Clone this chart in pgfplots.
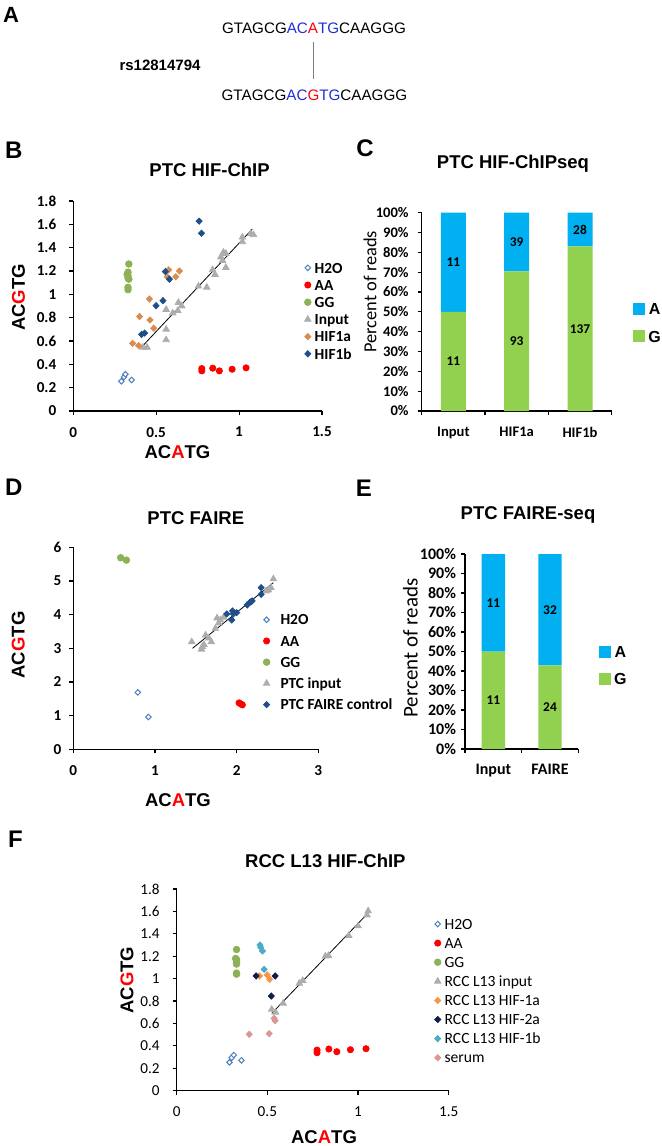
\documentclass[border=0pt]{standalone}
\usepackage{pgfplots}
\pgfplotsset{compat=1.18}
\usepackage{pgfplotstable}
\usepackage{fontspec}
\setmainfont{Liberation Sans}
\newfontfamily\calib{Carlito}

\definecolor{cA}{HTML}{00B0F0}
\definecolor{cG}{HTML}{92D050}
\definecolor{h2o}{HTML}{4F81BD}
\definecolor{aa}{HTML}{FF0000}
\definecolor{gg}{HTML}{8DB255}
\definecolor{inp}{HTML}{ADADAD}
\definecolor{hifa}{HTML}{DB8B4C}
\definecolor{hifb}{HTML}{1F4E8A}
\definecolor{rcca}{HTML}{F79646}
\definecolor{rcctwo}{HTML}{0F1E4A}
\definecolor{rccb}{HTML}{4BACC6}
\definecolor{serum}{HTML}{D99694}
\definecolor{seqblue}{HTML}{1F2FD8}

% read counts, percent of reads
\pgfplotstableread{
x G A Gn An
0 50 50 11 11
1 70.45 29.55 93 39
2 83.03 16.97 137 28
}\chipseq
\pgfplotstableread{
x G A Gn An
0 50 50 11 11
1 42.86 57.14 24 32
}\faireseq

\pgfplotsset{
  base/.style={scale only axis, anchor=south west,
    axis x line*=bottom, axis y line*=left,
    axis line style={-, line width=0.75pt},
    tick align=outside, major tick length=2pt,
    tick style={black, line width=0.6pt},
    /pgf/number format/assume math mode=true, clip=false},
  scat/.style={base,
    ticklabel style={font=\calib\bfseries\fontsize{7.6}{9}\selectfont},
    legend style={draw=none, fill=none, inner sep=0pt, anchor=north west,
      font=\calib\bfseries\fontsize{7.7}{9}\selectfont,
      nodes={inner sep=0.8pt, text height=5.5pt, text depth=1.5pt}},
    legend cell align=left,
    legend image code/.code={\draw[##1] plot coordinates {(0pt,0.6pt)};}},
  sqleg/.style={legend image code/.code={\fill[##1] (0pt,-3pt) rectangle (6pt,3pt);}},
  mH/.style={only marks, mark=diamond*, mark size=1.4pt, mark options={draw=h2o, fill=white, line width=0.5pt, xscale=1.3}},
  mAA/.style={only marks, mark=*, mark size=1.55pt, color=aa},
  mGG/.style={only marks, mark=*, mark size=1.65pt, color=gg},
  mIn/.style={only marks, mark=triangle*, mark size=1.85pt, color=inp},
  mD/.style={only marks, mark=diamond*, mark size=1.55pt, color=#1, mark options={xscale=1.3}},
  fit/.style={black, line width=0.4pt, forget plot},
  lbl/.style={draw=none, forget plot, nodes near coords, point meta=explicit symbolic,
    nodes near coords align={anchor=center},
    every node near coord/.append style={font=\calib\bfseries\fontsize{6.7}{8}\selectfont, inner sep=0pt}},
  barleg/.style={legend style={draw=none, fill=none, inner sep=0pt, anchor=north west,
    font=\bfseries\fontsize{8}{10}\selectfont, row sep=7pt, column sep=1pt,
    nodes={inner sep=0.5pt, text height=5.7pt, text depth=0pt}}},
}

\begin{document}
\begin{tikzpicture}
\useasboundingbox (0,0) rectangle (331pt,-573pt);

% ---------- A ----------
\node[font=\bfseries\fontsize{11}{13}\selectfont] at (5.5pt,-7.25pt) {A};
\node[font=\fontsize{7.6}{9}\selectfont] at (157pt,-14.15pt)
  {GTAGCG\textcolor{seqblue}{AC}\textcolor{red}{A}\textcolor{seqblue}{TG}CAAGGG};
\node[font=\fontsize{7.6}{9}\selectfont] at (157.2pt,-47.5pt)
  {GTAGCG\textcolor{seqblue}{AC}\textcolor{red}{G}\textcolor{seqblue}{TG}CAAGGG};
\draw[gray, line width=0.5pt] (156.5pt,-20.8pt) -- (156.5pt,-39.5pt);
\node[font=\bfseries\fontsize{7.5}{9}\selectfont] at (80pt,-32.5pt) {rs12814794};

% ---------- panel letters, titles, axis labels ----------
\begin{scope}[every node/.style={font=\bfseries\fontsize{12}{14}\selectfont}]
\node at (6.9pt,-75pt) {B};
\node at (182.5pt,-74pt) {C};
\node at (6.9pt,-243.75pt) {D};
\node at (182pt,-244pt) {E};
\node at (7.75pt,-419.5pt) {F};
\end{scope}
\begin{scope}[every node/.style={font=\bfseries\fontsize{9.25}{11}\selectfont}]
\node at (104.8pt,-84.7pt) {PTC HIF-ChIP};
\node at (256.5pt,-81.7pt) {PTC HIF-ChIPseq};
\node at (97.9pt,-259pt) {PTC FAIRE};
\node at (264pt,-257.5pt) {PTC FAIRE-seq};
\node at (162.7pt,-430.4pt) {RCC L13 HIF-ChIP};
\node[rotate=90] at (9.25pt,-148.75pt) {AC\textcolor{red}{G}TG};
\node at (88.75pt,-225.85pt) {AC\textcolor{red}{A}TG};
\node[rotate=90] at (9.15pt,-322.5pt) {AC\textcolor{red}{G}TG};
\node at (89pt,-400pt) {AC\textcolor{red}{A}TG};
\node[rotate=90] at (63.5pt,-490pt) {AC\textcolor{red}{G}TG};
\node at (162pt,-568.35pt) {AC\textcolor{red}{A}TG};
\end{scope}
\node[rotate=90, font=\calib\fontsize{9.2}{11}\selectfont] at (185pt,-145.85pt) {Percent of reads};
\node[rotate=90, font=\calib\fontsize{10.5}{12}\selectfont] at (205.25pt,-324pt) {Percent of reads};

% ---------- B ----------
\begin{axis}[scat, at={(36.65pt,-205.5pt)}, width=124.35pt, height=105pt,
  xmin=0, xmax=1.5, ymin=0, ymax=1.8,
  xtick={0,0.5,1,1.5}, ytick={0,0.2,0.4,0.6,0.8,1,1.2,1.4,1.6,1.8},
  xticklabel shift=2.5pt, yticklabel shift=3pt,
  legend style={at={(0.928,0.719)}, column sep=1pt}]
\addplot[mH] coordinates {(0.29,0.255) (0.306,0.292) (0.314,0.315) (0.352,0.266)};
\addplot[mAA] coordinates {(0.775,0.344) (0.775,0.364) (0.841,0.367) (0.881,0.344) (0.958,0.358) (1.042,0.370)};
\addplot[mGG] coordinates {(0.335,1.26) (0.33,1.19) (0.325,1.17) (0.33,1.16) (0.33,1.14) (0.335,1.13) (0.33,1.06) (0.33,1.04)};
\addplot[mIn] coordinates {(0.42,0.545) (0.445,0.545) (0.56,0.70) (0.56,0.61) (0.56,0.87) (0.60,0.84) (0.63,0.86) (0.634,0.93) (0.654,0.90) (0.755,1.07) (0.805,1.06) (0.84,1.21) (0.855,1.17) (0.89,1.32) (0.905,1.36) (0.92,1.35) (0.90,1.29) (0.92,1.23) (1.02,1.49) (1.02,1.45) (1.07,1.52) (1.087,1.51)};
\addplot[mD=hifa] coordinates {(0.358,0.58) (0.394,0.56) (0.40,0.81) (0.459,0.96) (0.463,0.78) (0.485,0.71) (0.567,1.15) (0.575,1.21) (0.618,1.15) (0.64,1.20)};
\addplot[mD=hifb] coordinates {(0.759,1.627) (0.773,1.524) (0.555,1.195) (0.58,1.13) (0.499,0.903) (0.541,0.946) (0.412,0.656) (0.43,0.668)};
\addplot[fit] coordinates {(0.41,0.545) (1.08,1.56)};
\legend{H2O,AA,GG,Input,HIF1a,HIF1b}
\end{axis}

% ---------- C ----------
\begin{axis}[base, barleg, at={(210.85pt,-205.5pt)}, width=95pt, height=99.15pt,
  ybar stacked, bar width=12.5pt, enlargelimits=false,
  xmin=-0.5, xmax=2.5, ymin=0, ymax=100,
  xtick={-0.5,0.5,1.5,2.5}, xticklabels={},
  extra x ticks={0,1,2}, extra x tick labels={Input,HIF1a,HIF1b},
  extra x tick style={major tick length=0pt, xticklabel style={yshift=-4.5pt}},
  ytick={0,10,...,100}, yticklabel={\pgfmathprintnumber{\tick}\%}, yticklabel shift=1pt,
  ticklabel style={font=\calib\bfseries\fontsize{7.3}{9}\selectfont},
  reverse legend,
  legend style={at={(1.112,0.55)}}]
\addplot[fill=cG, draw=none, sqleg] table[x=x, y=G] {\chipseq};
\addplot[fill=cA, draw=none, sqleg] table[x=x, y=A] {\chipseq};
\legend{G,A}
\end{axis}
\begin{axis}[scale only axis, anchor=south west, hide axis, clip=false,
  at={(210.85pt,-205.5pt)}, width=95pt, height=99.15pt,
  xmin=-0.5, xmax=2.5, ymin=0, ymax=100]
\addplot[lbl] table[x=x, y expr=\thisrow{G}/2, meta=Gn] {\chipseq};
\addplot[lbl] table[x=x, y expr=\thisrow{G}+\thisrow{A}/2, meta=An] {\chipseq};
\end{axis}

% ---------- D ----------
\begin{axis}[scat, at={(36.65pt,-374.65pt)}, width=122.5pt, height=101pt,
  xmin=0, xmax=3, ymin=0, ymax=6,
  xtick={0,1,2,3}, ytick={0,1,2,3,4,5,6},
  xticklabel shift=2.5pt, yticklabel shift=0.5pt,
  legend style={at={(0.774,0.68)}, row sep=2pt, column sep=4.5pt}]
\addplot[mH] coordinates {(0.79,1.69) (0.92,0.96)};
\addplot[mAA] coordinates {(2.03,1.38) (2.05,1.35) (2.07,1.32)};
\addplot[mGG] coordinates {(0.58,5.69) (0.65,5.62)};
\addplot[mIn] coordinates {(1.45,3.19) (1.57,2.97) (1.58,3.05) (1.60,3.11) (1.62,3.39) (1.66,3.30) (1.69,3.19) (1.74,3.59) (1.76,3.90) (1.78,3.75) (1.80,3.84) (1.84,3.92) (2.36,4.70) (2.39,4.73) (2.42,4.80) (2.45,5.06)};
\addplot[mD=hifb] coordinates {(1.88,4.02) (1.94,3.84) (1.95,4.11) (1.96,4.02) (2.0,4.06) (2.13,4.29) (2.16,4.36) (2.18,4.39) (2.19,4.41) (2.30,4.60) (2.30,4.80)};
\addplot[fit] coordinates {(1.46,3.0) (2.45,4.95)};
\legend{H2O,AA,GG,PTC input,PTC FAIRE control}
\end{axis}

% ---------- E ----------
\begin{axis}[base, barleg, at={(232.5pt,-374.5pt)}, width=56.67pt, height=97.5pt,
  ybar stacked, bar width=11.67pt, enlargelimits=false,
  xmin=-0.5, xmax=1.5, ymin=0, ymax=100,
  xtick={-0.5,0.5,1.5}, xticklabels={},
  extra x ticks={0,1}, extra x tick labels={Input,FAIRE},
  extra x tick style={major tick length=0pt, xticklabel style={yshift=-4pt}},
  ytick={0,10,...,100}, yticklabel={\pgfmathprintnumber{\tick}\%}, yticklabel shift=-1pt,
  ticklabel style={font=\calib\bfseries\fontsize{8}{9}\selectfont},
  reverse legend,
  legend style={at={(1.18,0.535)}}]
\addplot[fill=cG, draw=none, sqleg] table[x=x, y=G] {\faireseq};
\addplot[fill=cA, draw=none, sqleg] table[x=x, y=A] {\faireseq};
\legend{G,A}
\end{axis}
\begin{axis}[scale only axis, anchor=south west, hide axis, clip=false,
  at={(232.5pt,-374.5pt)}, width=56.67pt, height=97.5pt,
  xmin=-0.5, xmax=1.5, ymin=0, ymax=100]
\addplot[lbl] table[x=x, y expr=\thisrow{G}/2, meta=Gn] {\faireseq};
\addplot[lbl] table[x=x, y expr=\thisrow{G}+\thisrow{A}/2, meta=An] {\faireseq};
\end{axis}

% ---------- F ----------
\begin{axis}[scat, at={(88.35pt,-545.35pt)}, width=136pt, height=100.85pt,
  xmin=0, xmax=1.5, ymin=0, ymax=1.8,
  xtick={0,0.5,1,1.5}, ytick={0,0.2,0.4,0.6,0.8,1,1.2,1.4,1.6,1.8},
  xticklabel shift=2.5pt, yticklabel shift=3pt,
  ticklabel style={font=\calib\fontsize{7.6}{9}\selectfont},
  legend style={at={(0.946,0.865)}, row sep=0.95pt, column sep=1pt, font=\calib\fontsize{7.8}{9}\selectfont}]
\addplot[mH] coordinates {(0.291,0.253) (0.303,0.295) (0.315,0.318) (0.357,0.271)};
\addplot[mAA] coordinates {(0.774,0.339) (0.774,0.363) (0.839,0.372) (0.883,0.348) (0.958,0.366) (1.044,0.375)};
\addplot[mGG] coordinates {(0.33,1.26) (0.325,1.18) (0.33,1.17) (0.33,1.15) (0.33,1.13) (0.33,1.05) (0.33,1.04)};
\addplot[mIn] coordinates {(0.524,0.726) (0.545,0.70) (0.587,0.78) (0.676,0.958) (0.695,0.982) (0.82,1.20) (0.837,1.205) (0.949,1.384) (1.0,1.47) (1.049,1.568) (1.056,1.604)};
\addplot[mD=rcca] coordinates {(0.457,1.024) (0.499,1.033) (0.513,0.994)};
\addplot[mD=rcctwo] coordinates {(0.438,1.024) (0.543,1.024) (0.522,0.845)};
\addplot[mD=rccb] coordinates {(0.459,1.30) (0.463,1.28) (0.473,1.247) (0.482,1.083)};
\addplot[mD=serum] coordinates {(0.40,0.503) (0.51,0.509) (0.543,0.625) (0.537,0.646)};
\addplot[fit] coordinates {(0.524,0.69) (1.058,1.59)};
\legend{H2O,AA,GG,RCC L13 input,RCC L13 HIF-1a,RCC L13 HIF-2a,RCC L13 HIF-1b,serum}
\end{axis}
\end{tikzpicture}
\end{document}
